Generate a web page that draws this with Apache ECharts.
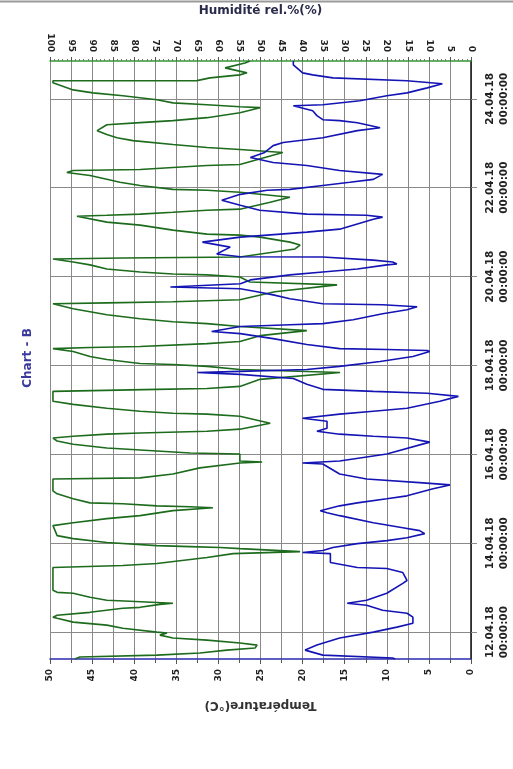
<!DOCTYPE html>
<html><head><meta charset="utf-8">
<script src="https://cdn.jsdelivr.net/npm/echarts@6/dist/echarts.min.js"></script>
<style>html,body{margin:0;padding:0;background:#fff}#c{width:513px;height:769px}</style>
</head><body><div id="c"></div>
<script>
const chartTitle = 'Chart - B';
const tempAxisName = 'Température(°C)';
const humAxisName = 'Humidité rel.%(%)';
// time axis: hours since 12.04.18 00:00:00
const dateTickHours = [0, 48, 96, 144, 192, 240, 288];
const dateLabels = ['12.04.18', '14.04.18', '16.04.18', '18.04.18', '20.04.18', '22.04.18', '24.04.18'];
const timeLabel2 = '00:00:00';

const tempTimes = [-14.5,-14.0,-12.4,-9.7,-7.0,-3.2,0,2.7,4.8,8.1,10.2,11.8,14.5,15.6,17.2,21.0,26.3,27.9,32.2,34.4,34.9,37.6,42.4,43.0,44.1,45.7,47.8,49.4,51.0,53.2,54.8,56.4,59.1,62.9,64.5,65.6,68.2,69.8,72.0,73.6,77.4,79.5,80.6,82.7,85.4,90.8,91.3,92.4,96.2,102.6,104.8,105.8,106.9,108.5,110.1,113.9,115.5,117.7,119.3,120.9,124.7,127.3,129.0,130.0,131.1,133.8,137.0,139.2,140.2,140.8,141.8,143.5,146.1,148.8,151.5,152.1,152.6,153.1,155.3,158.5,161.2,162.3,165.0,166.0,166.6,168.7,171.9,174.1,175.7,176.8,177.3,180.0,182.1,183.8,185.4,186.4,188.1,190.2,192.9,194.5,196.1,198.3,198.8,199.9,200.9,202.6,202.7,204.2,207.9,210.6,213.3,214.4,216.0,217.6,223.0,224.1,225.1,225.7,227.8,230.5,233.2,236.4,238.6,239.1,241.2,242.9,244.5,247.2,249.3,252.0,253.6,256.3,259.0,262.7,264.4,267.0,270.8,272.4,275.1,276.2,276.7,278.9,281.5,284.2,284.8,286.9,289.6,291.2,293.9,296.1,297.7,299.3,300.9,302.0,306.3,308.4];
const tempValues = [9.0,9.3,17.6,19.7,18.3,15.6,11.6,8.8,6.9,6.9,7.6,10.5,12.4,14.7,12.4,10.0,8.1,7.6,8.1,10.0,13.5,16.7,16.7,20.0,17.6,16.4,13.5,10.0,7.6,5.5,6.1,8.1,11.6,15.6,17.1,17.9,15.6,13.5,10.0,7.6,4.5,2.5,5.7,12.4,15.6,17.6,20.0,15.6,10.0,4.9,7.6,11.6,15.6,18.3,17.1,17.1,20.0,15.6,11.6,7.6,3.7,1.5,5.2,11.6,17.6,19.5,21.1,27.4,32.5,27.4,19.5,15.6,10.8,6.9,4.9,5.2,10.0,15.6,19.5,23.5,27.4,30.8,27.4,21.5,17.6,14.0,10.5,7.6,6.4,10.5,17.6,21.5,23.5,25.4,27.4,35.7,27.4,26.2,21.5,17.6,13.5,10.0,8.8,9.3,11.6,17.6,27.4,30.2,28.6,31.9,27.4,24.2,19.5,15.6,11.6,10.5,12.4,19.5,25.1,27.4,29.6,27.4,24.2,21.5,17.6,14.4,11.6,10.5,15.6,19.5,23.5,26.2,24.5,23.5,22.3,17.6,13.5,10.8,13.5,15.6,17.6,18.3,18.8,21.1,17.6,13.2,10.0,7.6,5.2,3.4,7.6,16.4,18.8,20.0,21.1,21.1];

const humTimes = [-14.5,-14.0,-13.4,-12.4,-11.3,-9.7,-8.6,-7.0,-5.9,-4.3,-3.2,-1.6,-0.5,0,2.1,3.8,5.4,7.5,8.1,9.1,10.7,12.9,13.4,15.0,15.6,16.7,17.2,18.8,21.0,21.5,22.6,34.9,36.0,37.1,40.3,42.4,43.5,45.1,45.7,46.2,46.7,48.4,50.5,52.1,57.5,59.1,61.3,62.9,65.6,67.2,67.7,68.2,69.3,69.8,72.0,74.7,76.3,82.7,83.3,85.4,88.7,91.3,91.9,92.4,96.2,96.7,97.8,99.4,101.5,103.2,104.8,105.8,106.9,107.5,108.5,109.6,112.8,116.6,117.7,118.2,119.3,120.9,123.0,124.7,130.0,131.1,131.6,132.7,136.5,140.2,141.8,143.5,144.5,145.1,147.2,148.8,151.5,153.1,153.7,154.2,155.8,156.9,160.1,162.8,165.0,166.0,166.6,167.6,169.2,171.4,174.6,177.3,177.8,178.4,179.5,183.8,187.5,189.1,191.8,192.9,193.4,194.5,196.1,198.3,199.9,201.5,202.0,202.6,206.9,209.0,210.6,213.3,214.4,214.9,217.1,219.8,221.4,224.6,225.1,225.7,226.7,227.8,228.4,232.1,234.8,237.5,238.6,239.1,241.2,242.9,244.5,246.6,248.2,249.3,249.8,250.9,252.0,252.5,259.0,260.6,261.7,263.3,265.4,267.0,268.7,270.8,274.0,275.1,276.2,277.8,280.5,283.2,283.7,284.8,285.8,287.5,289.6,291.2,292.8,296.6,297.7,297.8,299.3,300.9,302.0,304.7,307.3,308.4];
const humValues = [94.1,94.5,92.9,74.6,64.4,58.0,51.3,50.8,54.9,62.7,70.8,73.9,72.2,74.6,82.7,86.5,94.5,98.3,99.3,98.3,90.5,82.7,78.6,73.9,70.8,81.0,86.5,90.5,94.5,98.3,99.3,99.3,82.7,74.6,62.7,56.5,40.6,54.9,59.6,66.7,74.6,86.5,94.5,98.3,99.3,94.5,86.5,78.6,70.8,61.3,66.7,74.6,82.7,90.5,94.5,98.3,99.3,99.3,78.6,70.8,64.4,54.9,49.6,54.9,54.9,66.7,74.6,86.5,94.5,98.3,99.3,94.5,86.5,78.6,62.7,54.9,47.7,54.9,62.7,70.8,78.6,86.5,94.5,99.3,99.3,74.6,62.7,54.9,50.1,31.1,54.9,62.7,70.8,78.6,86.5,90.5,94.5,99.3,90.5,78.6,62.7,54.9,50.1,39.0,54.9,54.9,62.7,70.8,78.6,86.5,94.5,99.3,86.5,70.8,54.9,46.6,31.8,52.5,54.9,62.7,70.8,78.6,86.5,90.5,94.5,99.3,82.7,54.9,41.8,40.6,43.0,50.1,54.9,62.7,70.8,78.6,86.5,93.6,86.5,78.6,70.8,62.7,54.9,47.7,43.0,54.9,62.7,70.8,78.6,83.4,86.5,90.5,96.0,94.5,78.6,70.8,62.7,54.9,44.7,54.9,62.7,70.8,80.3,84.1,86.5,88.8,86.5,78.6,70.8,62.7,54.9,50.1,54.9,62.7,70.8,74.6,82.7,89.8,94.5,99.3,99.3,65.1,62.0,54.9,53.2,58.4,53.7,52.5];

const tempData = tempTimes.map((t, i) => [tempValues[i], t]);
const humData = humTimes.map((t, i) => [humValues[i], t]);

const labelFont = { fontFamily: 'DejaVu Sans', fontSize: 9, fontWeight: 'bold', color: '#222' };
const gridColor = '#8a8a8a';

const chart = echarts.init(document.getElementById('c'), null, { renderer: 'canvas' });
chart.setOption({
  animation: false,
  backgroundColor: '#fff',
  grid: { left: 50, right: 42, top: 58, bottom: 110, containLabel: false },
  graphic: [
    { type: 'line', shape: { x1: 0, y1: 1.5, x2: 513, y2: 1.5 }, style: { stroke: '#9a9a9a', lineWidth: 2 } },
    { type: 'text', x: 28, y: 358, rotation: Math.PI / 2,
      style: { text: chartTitle, textAlign: 'center', textVerticalAlign: 'middle', fill: '#3a3a9e',
               font: 'bold 12px "DejaVu Sans"' } }
  ],
  xAxis: [
    {
      type: 'value', position: 'bottom', min: 0, max: 50, interval: 5, inverse: true,
      name: tempAxisName, nameLocation: 'middle', nameGap: 40, nameRotate: 180,
      nameTextStyle: { fontFamily: 'DejaVu Sans', fontSize: 12, fontWeight: 'bold', color: '#333' },
      axisLine: { show: true, onZero: false, lineStyle: { color: '#2a2ab0', width: 1.5 } },
      axisTick: { show: true, length: 5, lineStyle: { color: '#555' } },
      minorTick: { show: true, splitNumber: 2, length: 4, lineStyle: { color: '#555' } },
      axisLabel: Object.assign({ rotate: 90, margin: 10 }, labelFont),
      splitLine: { show: false }
    },
    {
      type: 'value', position: 'top', min: 0, max: 100, interval: 5, inverse: true,
      name: humAxisName, nameLocation: 'middle', nameGap: 44,
      nameTextStyle: { fontFamily: 'DejaVu Sans', fontSize: 12, fontWeight: 'bold', color: '#2a2a4a' },
      axisLine: { show: true, onZero: false, lineStyle: { color: '#2f9a2f', width: 1.5 } },
      axisTick: { show: true, length: 4, lineStyle: { color: '#555' } },
      minorTick: { show: true, splitNumber: 5, length: 2, lineStyle: { color: '#777' } },
      axisLabel: Object.assign({ rotate: 90, margin: 9 }, labelFont),
      splitLine: { show: true, lineStyle: { color: gridColor, width: 1 } }
    }
  ],
  yAxis: [{
    type: 'value', position: 'right', min: -14.5, max: 308.4,
    axisLine: { show: true, onZero: false, lineStyle: { color: '#111', width: 1.5 } },
    axisTick: { show: true, length: 6, customValues: dateTickHours, lineStyle: { color: gridColor } },
    axisLabel: Object.assign({}, labelFont, {
      rotate: 90, margin: 12, lineHeight: 14, fontSize: 10.5, customValues: dateTickHours,
      formatter: v => {
        const i = dateTickHours.indexOf(v);
        return i >= 0 ? dateLabels[i] + '\n' + timeLabel2 : '';
      }
    }),
    splitLine: { show: true, lineStyle: { color: gridColor, width: 1 } }
  }],
  series: [
    { name: 'Humidité', type: 'line', xAxisIndex: 1, yAxisIndex: 0, data: humData,
      showSymbol: false, symbol: 'none', lineStyle: { color: '#1d6b1d', width: 1.6 }, z: 3 },
    { name: 'Température', type: 'line', xAxisIndex: 0, yAxisIndex: 0, data: tempData,
      showSymbol: false, symbol: 'none', lineStyle: { color: '#1414b4', width: 1.6 }, z: 4 }
  ]
});
</script></body></html>
